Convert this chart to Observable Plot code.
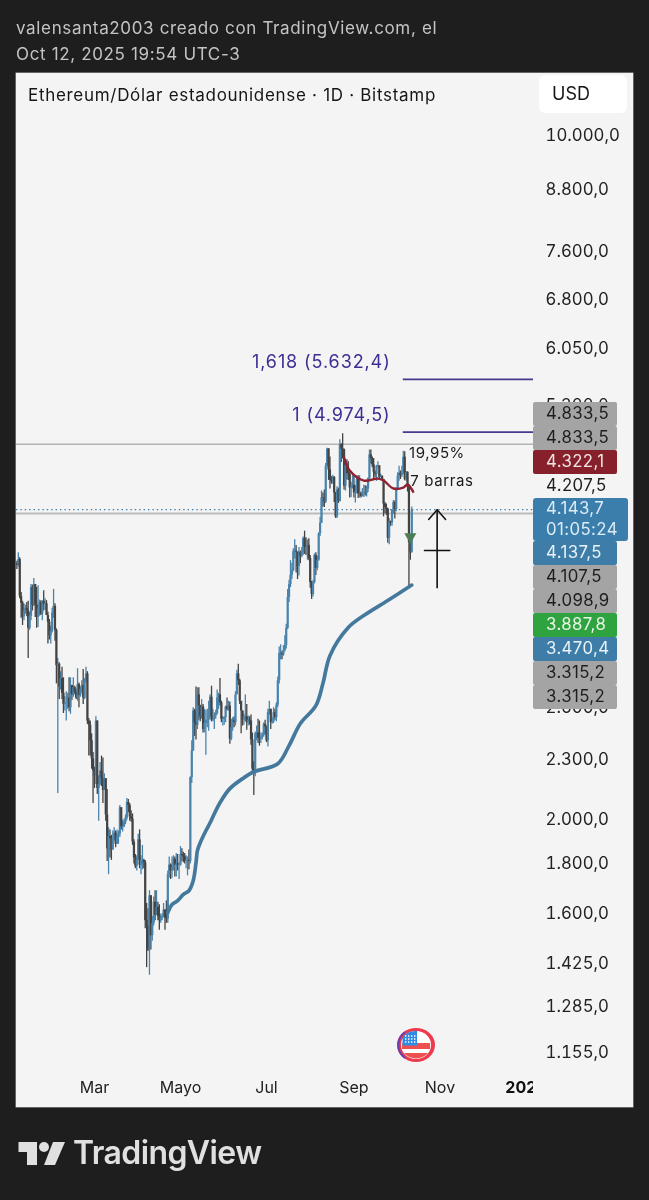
<!DOCTYPE html>
<html lang="es">
<head>
<meta charset="utf-8">
<script src="https://cdn.jsdelivr.net/npm/d3@7"></script>
<script src="https://cdn.jsdelivr.net/npm/@observablehq/plot@0.6"></script>
<style>
  html,body{margin:0;padding:0;background:#1e1e1e;}
  #page{position:relative;width:649px;height:1200px;overflow:hidden;background:#1e1e1e;font-family:Inter,"Noto Sans",sans-serif;filter:blur(.3px);}
  .hdr{position:absolute;left:16px;color:#c4c4c4;font-size:17px;line-height:22px;white-space:nowrap;letter-spacing:.65px;}
  #panel{position:absolute;left:16px;top:73px;width:617px;height:1034px;background:#f4f4f4;box-shadow:0 0 0 .5px #aaa;}
  #main{position:absolute;left:0;top:0;}
  #xaxis{position:absolute;left:0;top:997px;}
  #title{position:absolute;left:12px;top:11px;font-size:17px;line-height:22px;color:#161616;white-space:nowrap;letter-spacing:.7px;}
  #unit{position:absolute;left:523px;top:2px;width:88px;height:38px;background:#fff;border-radius:6px;font-size:18px;line-height:38px;color:#161616;text-indent:13px;}
  #tags{position:absolute;left:517px;top:329px;display:flex;flex-direction:column;align-items:flex-start;font-size:16.8px;letter-spacing:.4px;}
  .tag{width:84px;height:24px;line-height:23px;padding-left:13px;box-sizing:border-box;border-radius:2px;color:#1e1e1e;white-space:pre;}
  .tag.wide{width:95px;height:43px;line-height:21px;white-space:pre-line;border-radius:3px;}
  .t-grey{background:#a4a4a4;}.t-red{background:#86212c;color:#f2e4e4;}.t-none{background:#f4f4f4;}
  .t-blue{background:#3e7da8;color:#e8f2f8;}.t-wide{background:#3b7dab;color:#dcecf6;}.t-green{background:#2fa33f;color:#e8f6e8;}
  #flag{position:absolute;left:380px;top:954px;}
  #logo{position:absolute;left:0;top:1130px;}
  #brand{position:absolute;left:73px;top:1131px;color:#e0e0e0;font-size:32px;line-height:44px;font-weight:600;letter-spacing:-.6px;white-space:nowrap;}
</style>
</head>
<body>
<div id="page">
  <div class="hdr" style="top:17px">valensanta2003 creado con TradingView.com, el</div>
  <div class="hdr" style="top:43px">Oct 12, 2025 19:54 UTC-3</div>
  <div id="panel">
    <div id="main"></div>
    <div id="xaxis"></div>
    <div id="title">Ethereum/Dólar estadounidense · 1D · Bitstamp</div>
    <div id="unit">USD</div>
    <svg id="flag" width="42" height="38" viewBox="0 0 42 38">
      <ellipse cx="20" cy="18" rx="19" ry="17" fill="#ee3a4c"/>
      <path d="M9 31A19 17 0 0 1 9 5" fill="none" stroke="#6a3fb0" stroke-width="2"/>
      <ellipse cx="20" cy="18" rx="15" ry="14" fill="#fff"/>
      <rect x="6" y="16" width="28" height="6" fill="#ee5050"/>
      <path d="M8 26h24a15 14 0 0 1-24 0z" fill="#ee5050"/>
      <path d="M6.5 18.500V11a15 14 0 0 1 14.500-7v14.500z" fill="#2f8be6"/>
      <path d="M9 9h1.400M12 9h1.400M15 9h1.400M18 9h1.400M9 12h1.400M12 12h1.400M15 12h1.400M18 12h1.400M9 15h1.400M12 15h1.400M15 15h1.400M18 15h1.400" stroke="#fff" stroke-width="1.500"/>
    </svg>
    <div id="tags"></div>
  </div>
  <svg id="logo" width="70" height="40" viewBox="0 0 70 40">
    <path d="M18.5 12H37V35H27V22H18.5z" fill="#e0e0e0"/>
    <circle cx="44" cy="17" r="5" fill="#e0e0e0"/>
    <path d="M53 12H65L55 35H44z" fill="#e0e0e0"/>
  </svg>
  <div id="brand">TradingView</div>
</div>
<script>
// Daily candles, one value per day from 2025-01-05 to 2025-10-12
const startDay = "2025-01-05";
const firstOpen = 3650;
const closes = [
  3635,3685,3380,3325,3220,3265,3285,3265,3135,3225,3450,3310,3475,3310,3215,3280,3330,3240,3340,3315,3320,3230,3180,3080,3110,3250,3300,
  3120,2870,2880,2730,2785,2690,2620,2630,2630,2660,2600,2740,2680,2725,2695,2660,2745,2675,2715,2740,2660,2765,2815,2520,2495,2405,2305,2240,
  2215,2520,2150,2170,2240,2200,2140,2200,2020,1865,1920,1910,1860,1910,1935,1885,1925,1930,2055,1965,1965,1985,2005,2080,2065,2010,2000,1895,1825,1790,1820,
  1905,1795,1815,1815,1805,1575,1555,1470,1670,1520,1565,1645,1595,1625,1590,1575,1585,1590,1615,1585,1580,1755,1795,1770,1785,1820,1795,1800,1795,1795,
  1840,1835,1830,1810,1815,1815,1810,2205,2350,2580,2510,2495,2680,2610,2545,2605,2470,2505,2525,2525,2550,2665,2525,2530,2550,2565,2660,2680,2630,2530,2530,
  2540,2605,2590,2610,2415,2480,2525,2510,2680,2815,2770,2640,2580,2525,2545,2545,2510,2525,2520,2410,2250,2225,2445,2450,2420,2415,2425,2435,2500,2485,
  2405,2570,2590,2510,2515,2570,2540,2615,2770,2955,2955,2945,2975,3010,3135,3370,3475,3550,3590,3755,3760,3750,3625,3745,3715,3745,3870,3795,3790,3810,3695,
  3490,3395,3490,3720,3610,3680,3915,4015,4260,4255,4220,4590,4780,4550,4440,4430,4470,4310,4075,4340,4225,4830,4780,4775,4380,4600,4510,4505,4360,4375,4390,
  4310,4325,4450,4300,4305,4275,4305,4310,4305,4350,4460,4715,4670,4605,4525,4500,4590,4595,4470,4480,4450,4200,4165,4150,3875,4030,4015,4140,4215,4145,
  4350,4485,4515,4490,4515,4690,4450,4525,4370,3835,3750,4143.7
];
const highs = [
  3670,3745,3700,3410,3340,3320,3310,3330,3340,3255,3475,3470,3525,3450,3450,3465,3350,3345,3345,3425,3360,3345,3255,3200,3150,3285,3435,
  3320,3130,2920,2890,2830,2860,2790,2670,2700,2690,2790,2790,2730,2790,2735,2715,2850,2755,2730,2770,2845,2785,2860,2830,2535,2520,2445,2340,
  2260,2545,2520,2215,2285,2320,2310,2225,2200,2145,1960,1950,1925,1945,1960,1945,1950,1945,2065,2010,1995,2000,2020,2100,2095,2075,2040,2025,1905,1840,1835,
  1930,1950,1835,1880,1820,1815,1640,1620,1690,1670,1590,1665,1690,1690,1645,1635,1600,1600,1640,1615,1650,1770,1830,1800,1830,1835,1830,1845,1840,1805,
  1875,1865,1850,1845,1835,1830,1860,2210,2405,2600,2590,2730,2725,2725,2615,2650,2620,2590,2585,2590,2640,2680,2735,2590,2570,2585,2710,2690,2785,2640,2545,
  2545,2610,2660,2640,2635,2530,2540,2545,2700,2840,2880,2780,2620,2580,2560,2680,2620,2550,2545,2555,2450,2290,2455,2490,2530,2520,2450,2450,2510,2525,
  2490,2590,2640,2590,2540,2600,2590,2630,2795,3000,3015,2970,3010,3080,3165,3435,3510,3675,3650,3780,3860,3810,3750,3790,3760,3790,3885,3940,3880,3860,3870,
  3720,3500,3510,3735,3745,3715,3925,4070,4330,4310,4340,4620,4790,4785,4690,4480,4495,4480,4315,4375,4360,4885,4840,4955,4780,4645,4660,4640,4530,4420,4490,
  4495,4385,4490,4490,4490,4320,4355,4390,4385,4380,4465,4770,4770,4690,4675,4540,4600,4640,4595,4505,4490,4450,4215,4200,4155,4060,4035,4145,4235,4230,
  4365,4520,4590,4540,4590,4755,4750,4535,4530,4395,3900,4170
];
const lows = [
  3600,3620,3360,3210,3155,3190,3240,3220,2920,3120,3190,3265,3300,3215,3135,3140,3225,3230,3190,3265,3270,3230,3020,3050,3020,3100,3210,
  3040,2750,2125,2650,2710,2650,2565,2580,2520,2590,2575,2560,2645,2665,2680,2650,2640,2600,2665,2690,2620,2650,2755,2500,2320,2320,2250,2075,
  2150,2170,2120,1990,2165,2160,2075,2180,1990,1810,1755,1825,1815,1860,1900,1870,1885,1885,1915,1950,1940,1960,1975,1995,2030,1990,1985,1880,1800,1780,1770,
  1815,1780,1755,1775,1780,1545,1410,1465,1385,1470,1500,1555,1575,1595,1575,1540,1565,1575,1585,1540,1565,1565,1740,1735,1740,1770,1745,1745,1770,1735,
  1790,1810,1805,1800,1780,1750,1775,1800,2175,2345,2430,2410,2470,2525,2515,2530,2450,2450,2325,2480,2460,2540,2515,2515,2470,2530,2555,2590,2610,2510,2490,
  2495,2510,2580,2580,2385,2405,2460,2480,2490,2680,2740,2620,2445,2490,2495,2515,2465,2490,2495,2380,2225,2115,2210,2405,2390,2375,2390,2410,2425,2440,
  2395,2370,2555,2470,2500,2505,2525,2515,2600,2750,2910,2910,2935,2965,2985,3125,3330,3450,3515,3580,3690,3570,3515,3545,3650,3700,3720,3730,3720,3680,3675,
  3445,3355,3375,3480,3550,3590,3670,3890,4010,4170,4165,4205,4585,4440,4350,4400,4400,4215,4060,4060,4205,4220,4630,4670,4340,4330,4445,4440,4260,4265,4350,
  4260,4210,4300,4255,4260,4260,4270,4265,4280,4270,4315,4440,4615,4575,4440,4470,4430,4575,4445,4465,4440,4075,4105,4090,3830,3815,3985,3985,4100,4055,
  4125,4350,4430,4450,4470,4505,4435,4430,4320,3450,3680,3740
];

// Blue moving line
const blueDates = ["2025-04-22","2025-04-25","2025-04-29","2025-05-03","2025-05-07","2025-05-10","2025-05-12","2025-05-13","2025-05-15","2025-05-19","2025-05-22","2025-05-26","2025-05-29","2025-06-05","2025-06-15","2025-06-22","2025-07-09","2025-07-17","2025-07-25","2025-08-05","2025-08-10","2025-08-15","2025-08-28","2025-09-08","2025-09-25","2025-10-12"];
const blueValues = [1605,1636,1651,1675,1690,1730,1805,1857,1892,1946,1983,2040,2079,2149,2205,2236,2279,2378,2505,2613,2752,2939,3140,3230,3346,3470.4];

// Red moving line
const redDates = ["2025-08-25","2025-08-29","2025-09-08","2025-09-18","2025-09-22","2025-09-29","2025-10-06","2025-10-09","2025-10-13"];
const redValues = [4686,4545,4438,4459,4438,4356,4366,4397,4322.1];

// Levels
const fibLevels = [5632.4, 4974.5];
const fibLabels = ["1,618 (5.632,4)", "1 (4.974,5)"];
const greyLevels = [4833.5, 4107.5];
const lastPrice = 4143.7;
const markerPrice = 3887.8;
const arrowShaftDay = "2025-10-30";
const arrowPrices = [4143.7, 3440];
const arrowBarDays = ["2025-10-21", "2025-11-08"];
const arrowBarPrice = 3765;
const arrowHeadDays = ["2025-10-24", "2025-10-30", "2025-11-05"];
const arrowHeadPrices = [4049, 4143.7, 4049];
const noteTexts = ["19,95%", "7 barras"];

// Axes
const yTicks = [10000,8800,7600,6800,6050,5300,2600,2300,2000,1800,1600,1425,1285,1155];
const monthDays = ["2025-03-01","2025-05-01","2025-07-01","2025-09-01","2025-11-01"];
const monthNames = ["Mar","Mayo","Jul","Sep","Nov"];
const yearDay = "2026-01-01";
const yearName = "2026";

// Price tags on the axis
const tagTexts = ["4.833,5","4.833,5","4.322,1","4.207,5","4.143,7\n01:05:24","4.137,5","4.107,5","4.098,9","3.887,8","3.470,4","3.315,2","3.315,2"];
const tagKinds = ["grey","grey","red","none","wide","blue","grey","grey","green","blue","grey","grey"];

const utc = s => new Date(s + "T00:00:00Z");
const day0 = utc(startDay).getTime();
const candles = closes.map((c, i) => ({
  date: new Date(day0 + i * 864e5),
  open: i ? closes[i - 1] : firstOpen,
  close: c, high: highs[i], low: lows[i]
}));
const up = d => d.close >= d.open;
const upColor = "#4a84ad", downColor = "#434343";

const xDomain = [new Date("2025-01-04T17:00:00Z"), new Date("2026-01-06T08:00:00Z")];
const xEnd = xDomain[1];
const fmt = d3.formatLocale({decimal: ",", thousands: ".", grouping: [3], currency: ["", ""]}).format(",.1f");
const font = "Inter, 'Noto Sans', sans-serif";

const chart = Plot.plot({
  width: 617, height: 1000,
  marginLeft: 0, marginRight: 100, marginTop: 0, marginBottom: 0,
  style: {background: "transparent", fontFamily: font, overflow: "visible"},
  x: {type: "utc", domain: xDomain, axis: null},
  y: {type: "log", domain: [11571, 1099], range: [0, 1000], axis: null},
  marks: [
    Plot.axisY({anchor: "right", ticks: yTicks, tickSize: 0, tickPadding: 12, tickFormat: fmt, fontSize: 16.8, fill: "#222", label: null, textAnchor: "start"}),
    Plot.ruleY([greyLevels[0]], {stroke: "#b4b4b4", strokeWidth: 1.4}),
    Plot.ruleY([greyLevels[1]], {stroke: "#bcbcbc", strokeWidth: 2}),
    Plot.ruleY([lastPrice], {stroke: "#3b7dab", strokeWidth: 1.2, strokeDasharray: "1.4,3"}),
    Plot.ruleY(fibLevels, {x1: utc("2025-10-06"), x2: xEnd, stroke: "#463a90", strokeWidth: 1.7}),
    Plot.text(fibLabels, {x: utc("2025-09-27"), y: (d, i) => fibLevels[i], dy: -17, textAnchor: "end", fill: "#3c2f93", fontSize: 18}),
    Plot.ruleX(candles, {x: "date", y1: "low", y2: "high", stroke: d => up(d) ? upColor : downColor, strokeWidth: 1.3}),
    Plot.ruleX(candles, {x: "date", y1: "open", y2: "close", stroke: d => up(d) ? upColor : downColor, strokeWidth: 2.2}),
    Plot.line(blueDates, {x: utc, y: (d, i) => blueValues[i], stroke: "#44799d", strokeWidth: 3.7, curve: "catmull-rom"}),
    Plot.line(redDates, {x: utc, y: (d, i) => redValues[i], stroke: "#8f2232", strokeWidth: 2.4, curve: "catmull-rom"}),
    Plot.dot([markerPrice], {x: utc("2025-10-11"), y: d => d, symbol: "triangle", r: 4.5, rotate: 180, fill: "#4e7d55"}),
    Plot.text([noteTexts[0]], {x: utc("2025-10-10"), y: [4731], textAnchor: "start", fontSize: 15, fill: "#1a1a1a"}),
    Plot.text([noteTexts[1]], {x: utc("2025-10-11"), y: [4427], textAnchor: "start", fontSize: 15, fill: "#1a1a1a"}),
    Plot.ruleX([utc(arrowShaftDay)], {y1: arrowPrices[0], y2: arrowPrices[1], stroke: "#111", strokeWidth: 1.6}),
    Plot.line(arrowBarDays, {x: utc, y: () => arrowBarPrice, stroke: "#111", strokeWidth: 1.5}),
    Plot.line(arrowHeadDays, {x: utc, y: (d, i) => arrowHeadPrices[i], stroke: "#111", strokeWidth: 1.5})
  ]
});
chart.querySelectorAll("text").forEach(t => {
  if (fibLabels.includes(t.textContent)) t.style.letterSpacing = "0.9px";
  if (noteTexts.includes(t.textContent)) t.style.letterSpacing = "0.6px";
});
document.getElementById("main").append(chart);

const xAxis = Plot.plot({
  width: 517, height: 34,
  marginLeft: 0, marginRight: 0, marginTop: 0, marginBottom: 0,
  style: {background: "transparent", fontFamily: font},
  x: {type: "utc", domain: xDomain, axis: null},
  marks: [
    Plot.text(monthNames, {x: (d, i) => utc(monthDays[i]), frameAnchor: "middle", fontSize: 16, fill: "#222"}),
    Plot.text([yearName], {x: () => utc(yearDay), frameAnchor: "middle", fontSize: 16, fontWeight: 700, fill: "#111"})
  ]
});
document.getElementById("xaxis").append(xAxis);

const tagBox = document.getElementById("tags");
tagTexts.forEach((t, i) => {
  const el = document.createElement("div");
  el.className = "tag t-" + tagKinds[i] + (tagKinds[i] === "wide" ? " wide" : "");
  el.textContent = t;
  tagBox.append(el);
});
</script>
</body>
</html>
